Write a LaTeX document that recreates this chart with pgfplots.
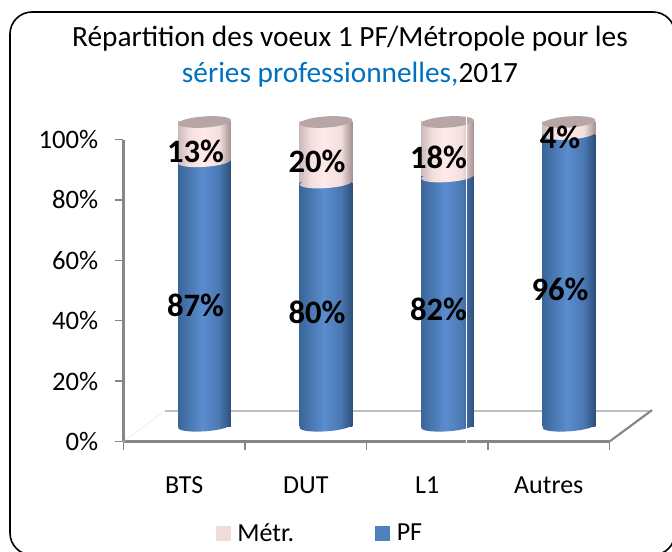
\documentclass[border=0pt]{standalone}
\usepackage{pgfplots}
\pgfplotsset{compat=1.18}
\usepackage{fontspec}
\setmainfont{Carlito}
\definecolor{axgray}{HTML}{868686}
\definecolor{titleblue}{HTML}{0070C0}
\definecolor{c1}{HTML}{3A6698}
\definecolor{c2}{HTML}{4A78B2}
\definecolor{c3}{HTML}{5A8CCF}
\definecolor{c3b}{HTML}{4A78B2}
\definecolor{c4}{HTML}{2C4F7A}
\definecolor{p1}{HTML}{CDBBBB}
\definecolor{p2}{HTML}{F4DFDF}
\definecolor{p3}{HTML}{FFE9E9}
\definecolor{p4}{HTML}{A39090}
\pgfdeclarehorizontalshading{bluecyl}{100bp}{color(0bp)=(c1);color(25bp)=(c1);color(36bp)=(c2);color(48bp)=(c3);color(64bp)=(c3b);color(75bp)=(c4);color(100bp)=(c4)}
\pgfdeclarehorizontalshading{pinkcyl}{100bp}{color(0bp)=(p1);color(25bp)=(p1);color(36bp)=(p2);color(48bp)=(p3);color(64bp)=(p2);color(75bp)=(p4);color(100bp)=(p4)}
\pgfplotsset{cylaxis/.style={
  at={(107.8125pt,93.75pt)}, anchor=south west,
  scale only axis, width=364.5pt, height=228pt,
  xmin=0, xmax=4, ymin=0, ymax=100, clip=false,
  axis lines=none}}
\newcommand\bars[3]{%
\begin{axis}[cylaxis, ybar stacked, bar width=39.5pt]
\addplot[shading=bluecyl, draw=none] coordinates {(#1,#2)};
\addplot[shading=pinkcyl, draw=none] coordinates {(#1,#3)};
\end{axis}}
\newcommand\cyl[2]{%
  \path[shading=bluecyl] (axis cs:#1,0) ellipse [x radius=19.75pt, y radius=4pt, rotate=4];
  \path[shading=pinkcyl] (axis cs:#1,#2) ellipse [x radius=19.75pt, y radius=4pt, rotate=4];
  \fill[color={rgb,255:red,184;green,166;blue,166}] (axis cs:#1,100) ellipse [x radius=19.75pt, y radius=4.2pt, rotate=4];
}
\begin{document}
\begin{tikzpicture}[x=1pt,y=1pt]
\useasboundingbox (0,0) rectangle (504,413.25);
\fill[white] (0,0) rectangle (504,413.25);
\draw[black,line width=1.2pt,rounded corners=16.5pt] (7.5,-3) rectangle (506.25,404.25);
\begin{axis}[
  name=main, at={(92.625pt,82.125pt)}, anchor=south west,
  scale only axis, width=364.5pt, height=226.5pt,
  xmin=0, xmax=4, ymin=0, ymax=100, clip=false,
  axis lines=left, axis line style={-, draw=axgray, line width=1.9pt},
  ytick={0,20,40,60,80,100},
  yticklabel={\pgfmathprintnumber{\tick}\%},
  /pgf/number format/assume math mode=true,
  ytick style={draw=axgray, line width=1pt},
  tick align=outside, major tick length=6.5pt,
  yticklabel style={font=\fontsize{20}{22}\selectfont, text=black, anchor=east, xshift=-9pt},
  xtick={0.5,1.5,2.5,3.5},
  xticklabels={BTS,DUT,L1,Autres},
  major x tick style={draw=none},
  xticklabel style={font=\fontsize{19.5}{22}\selectfont, text=black, anchor=center, yshift=-26pt},
  extra x ticks={0,1,2,3,4},
  extra x tick labels={},
  extra x tick style={major x tick style={draw=axgray, line width=1pt}},
  title={Répartition des voeux 1 PF/Métropole pour les\\{\color{titleblue}séries professionnelles,}2017},
  title style={at={(axis description cs:0.466,1.248)}, anchor=center, align=center, text=black, font=\fontsize{22}{26.5}\selectfont},
]
\draw[color={rgb,255:red,190;green,190;blue,190}, line width=0.8pt] (axis cs:0.34,10.1) -- (axis cs:4.35,10.1);
\draw[color={rgb,255:red,225;green,225;blue,225}, line width=0.7pt, densely dotted] (axis cs:0,0) -- (axis cs:0.34,10.1);
\draw[axgray, line width=1.6pt] (axis cs:4,0) -- (axis cs:4.35,10.4);
\end{axis}
\bars{0.5}{87}{13}
\bars{1.5}{80}{20}
\bars{2.5}{82}{18}
\bars{3.5}{96}{4}
\begin{axis}[cylaxis,
  legend style={draw=none, fill=none, at={(axis description cs:0.14,-0.353)}, anchor=west,
     font=\fontsize{19.5}{22}\selectfont, legend columns=2,
     /tikz/every even column/.append style={column sep=59pt}},
  legend cell align=left,
]
\cyl{0.5}{87}
\cyl{1.5}{80}
\cyl{2.5}{82}
\cyl{3.5}{96}
\addlegendimage{legend image code/.code={\path[draw=none] (0pt,0pt) -- (14pt,0pt);\fill[draw=none,color={rgb,255:red,242;green,220;blue,219}] (0pt,-5.6pt) rectangle (11pt,5.6pt);}}
\addlegendentry{Métr.}
\addlegendimage{legend image code/.code={\path[draw=none] (0pt,0pt) -- (14pt,0pt);\fill[draw=none,color={rgb,255:red,79;green,129;blue,189}] (0pt,-5.6pt) rectangle (11pt,5.6pt);}}
\addlegendentry{PF}
\tikzset{lab/.style={font=\fontsize{24.5}{26}\bfseries\selectfont, text=black, anchor=center, inner sep=0pt}}
\node[lab] at (axis cs:0.426,39.8) {87\%};
\node[lab] at (axis cs:1.426,37.5) {80\%};
\node[lab] at (axis cs:2.426,38.5) {82\%};
\node[lab] at (axis cs:3.426,45) {96\%};
\node[lab] at (axis cs:0.426,90.5) {13\%};
\node[lab] at (axis cs:1.426,87) {20\%};
\node[lab] at (axis cs:2.426,88.5) {18\%};
\node[lab] at (axis cs:3.426,95) {4\%};
\end{axis}
\draw[white, line width=0.5pt] (349.9,79) -- (349.9,326);
\end{tikzpicture}
\end{document}
